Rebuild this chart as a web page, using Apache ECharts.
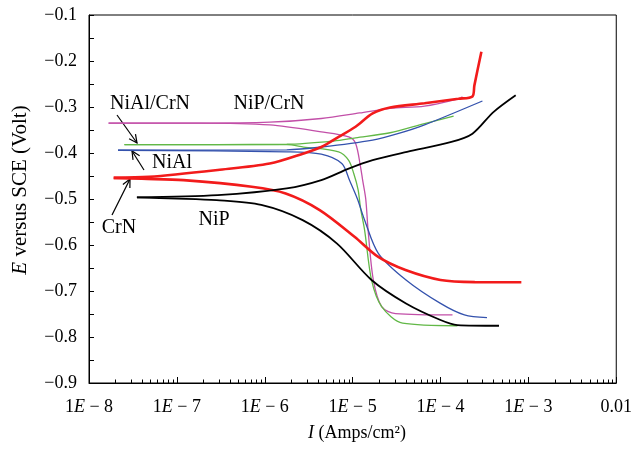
<!DOCTYPE html>
<html><head><meta charset="utf-8">
<script src="https://cdn.jsdelivr.net/npm/echarts@6/dist/echarts.min.js"></script>
<style>html,body{margin:0;padding:0;background:#fff}#c{width:635px;height:451px}</style>
</head><body><div id="c"></div>
<script>
// Tick labels
const xTickLabels = ['1{i|E} − 8','1{i|E} − 7','1{i|E} − 6','1{i|E} − 5','1{i|E} − 4','1{i|E} − 3','0.01'];
const yTickLabels = ['−0.9','−0.8','−0.7','−0.6','−0.5','−0.4','−0.3','−0.2','−0.1'];
const xMinorMultipliers = [2,3,4,5,6,7,8,9];
const xDecades = [1e-8,1e-7,1e-6,1e-5,1e-4,1e-3];

// Polarization curves: [I (A/cm2), E (V vs SCE)], each branch starts at Ecorr
const nipCrN_cathodic = [[1.67e-8,-0.335],[1.82e-7,-0.335],[1.14e-6,-0.339],[4.40e-6,-0.354],[9.02e-6,-0.365],[1.08e-5,-0.379],[1.23e-5,-0.43],[1.30e-5,-0.459],[1.41e-5,-0.50],[1.50e-5,-0.568],[1.72e-5,-0.676],[2.14e-5,-0.734],[3.08e-5,-0.749],[1.37e-4,-0.752]];
const nipCrN_anodic = [[1.67e-8,-0.335],[1.82e-7,-0.335],[1.14e-6,-0.333],[4.40e-6,-0.325],[1.20e-5,-0.313],[2.67e-5,-0.303],[6.58e-5,-0.298],[1.62e-4,-0.282],[1.78e-4,-0.278]];

const nialCrN_cathodic = [[2.53e-8,-0.382],[1.78e-6,-0.382],[2.77e-6,-0.387],[6.93e-6,-0.3975],[9.02e-6,-0.416],[1.03e-5,-0.4445],[1.155e-5,-0.48],[1.23e-5,-0.52],[1.37e-5,-0.568],[1.64e-5,-0.676],[2.14e-5,-0.734],[3.70e-5,-0.770],[1.56e-4,-0.7755]];
const nialCrN_anodic = [[2.53e-8,-0.382],[1.78e-6,-0.381],[6.08e-6,-0.374],[1.08e-5,-0.367],[2.67e-5,-0.356],[6.58e-5,-0.336],[1.41e-4,-0.320]];

const nial_cathodic = [[2.14e-8,-0.394],[1.78e-6,-0.3975],[4.40e-6,-0.4026],[7.53e-6,-0.423],[9.25e-6,-0.46],[1.135e-5,-0.50],[1.37e-5,-0.546],[1.96e-5,-0.618],[4.05e-5,-0.676],[1.0e-4,-0.727],[1.87e-4,-0.752],[3.38e-4,-0.758]];
const nial_anodic = [[2.14e-8,-0.394],[1.78e-6,-0.393],[4.40e-6,-0.387],[1.69e-5,-0.372],[3.42e-5,-0.357],[6.58e-5,-0.339],[3.0e-4,-0.287]];

const crn_cathodic = [[1.91e-8,-0.454],[4.0e-8,-0.456],[1.19e-7,-0.459],[7.11e-7,-0.4735],[1.73e-6,-0.488],[4.22e-6,-0.524],[1.05e-5,-0.582],[1.96e-5,-0.626],[4.0e-5,-0.6545],[1.0e-4,-0.676],[2.46e-4,-0.6806],[8.32e-4,-0.681]];
const crn_anodic = [[1.91e-8,-0.454],[4.81e-8,-0.452],[2.92e-7,-0.437],[1.14e-6,-0.423],[2.77e-6,-0.401],[4.40e-6,-0.387],[6.93e-6,-0.365],[1.08e-5,-0.343],[1.69e-5,-0.314],[2.67e-5,-0.301],[6.58e-5,-0.292],[1.60e-4,-0.282],[2.31e-4,-0.277],[2.43e-4,-0.253],[2.92e-4,-0.180]];

const nip_cathodic = [[3.51e-8,-0.4966],[1.0e-7,-0.499],[2.83e-7,-0.5025],[9.12e-7,-0.513],[2.70e-6,-0.546],[6.65e-6,-0.597],[1.64e-5,-0.676],[4.05e-5,-0.727],[1.0e-4,-0.763],[1.56e-4,-0.774],[4.63e-4,-0.7755]];
const nip_anodic = [[3.51e-8,-0.4966],[2.92e-7,-0.4916],[1.78e-6,-0.477],[4.40e-6,-0.459],[9.02e-6,-0.434],[1.69e-5,-0.4156],[4.16e-5,-0.3975],[1.33e-4,-0.376],[2.31e-4,-0.358],[4.0e-4,-0.311],[7.17e-4,-0.2744]];

const FONT = 'Liberation Serif';
const colors = { nipCrN: '#c24fa8', nialCrN: '#62b847', nial: '#3452ad', crn: '#f21b1b', nip: '#000000' };

function branch(data, color, width) {
  return { type: 'line', data: data, showSymbol: false, symbol: 'none', smooth: 0.3,
    lineStyle: { color: color, width: width }, silent: true, animation: false };
}

function arrow(x1, y1, x2, y2) {
  const dx = x2 - x1, dy = y2 - y1, L = Math.hypot(dx, dy);
  const ux = dx / L, uy = dy / L, h = 9, a = 0.45;
  const c = Math.cos(a), s = Math.sin(a);
  const p1 = [x2 - h * (ux * c - uy * s), y2 - h * (uy * c + ux * s)];
  const p2 = [x2 - h * (ux * c + uy * s), y2 - h * (uy * c - ux * s)];
  return [
    { type: 'line', shape: { x1: x1, y1: y1, x2: x2, y2: y2 }, style: { stroke: '#000', lineWidth: 1.2 } },
    { type: 'polyline', shape: { points: [p1, [x2, y2], p2] }, style: { stroke: '#000', lineWidth: 1.2, fill: null } }
  ];
}
function label(text, cx, cy) {
  return { type: 'text', x: cx, y: cy, style: { text: text, font: '20px "' + FONT + '"', fill: '#000', align: 'center', verticalAlign: 'middle' } };
}

const chart = echarts.init(document.getElementById('c'), null, { renderer: 'canvas' });
const baseGraphics = [
  label('NiAl/CrN', 150, 104),
  label('NiP/CrN', 269, 104),
  label('NiAl', 172, 163),
  label('CrN', 119, 228),
  label('NiP', 214, 220),
  { type: 'text', x: 357, y: 433, style: { text: '{i|I} (Amps/cm²)', font: '18px "' + FONT + '"', fill: '#000', align: 'center', verticalAlign: 'middle',
      rich: { i: { fontStyle: 'italic', fontFamily: FONT, fontSize: 18, fill: '#000' } } } },
  { type: 'text', x: 20, y: 190, rotation: Math.PI / 2, style: { text: '{i|E} versus SCE (Volt)', font: '21px "' + FONT + '"', fill: '#000', align: 'center', verticalAlign: 'middle',
      rich: { i: { fontStyle: 'italic', fontFamily: FONT, fontSize: 21, fill: '#000' } } } }
].concat(arrow(117, 115, 137, 143), arrow(144, 170, 132, 151), arrow(112, 215, 130, 179));

chart.setOption({
  backgroundColor: '#fff',
  animation: false,
  grid: { left: 89, right: 18, top: 15, bottom: 68, show: true, borderColor: '#000', borderWidth: 1, backgroundColor: 'transparent' },
  xAxis: {
    type: 'log', logBase: 10, min: 1e-8, max: 1e-2,
    axisLine: { show: true, lineStyle: { color: '#000', width: 1 } },
    axisTick: { show: true, inside: true, length: 6, lineStyle: { color: '#000' } },
    splitLine: { show: false },
    axisLabel: {
      margin: 15, color: '#000', fontFamily: FONT, fontSize: 18,
      formatter: function (v) { const k = Math.round(Math.log10(v)) + 8; return xTickLabels[k] || ''; },
      rich: { i: { fontStyle: 'italic', fontFamily: FONT, fontSize: 18, color: '#000' } }
    }
  },
  yAxis: {
    type: 'value', min: -0.9, max: -0.1, interval: 0.1,
    axisLine: { show: true, lineStyle: { color: '#000', width: 1 } },
    axisTick: { show: true, inside: true, length: 5, lineStyle: { color: '#000' } },
    minorTick: { show: true, splitNumber: 2, length: 5, lineStyle: { color: '#000' } },
    splitLine: { show: false },
    axisLabel: {
      margin: 12, color: '#000', fontFamily: FONT, fontSize: 18,
      formatter: function (v) { const k = Math.round((v + 0.9) * 10); return yTickLabels[k] || ''; }
    }
  },
  series: [
    branch(nipCrN_cathodic, colors.nipCrN, 1.3),
    branch(nipCrN_anodic, colors.nipCrN, 1.3),
    branch(nialCrN_cathodic, colors.nialCrN, 1.3),
    branch(nialCrN_anodic, colors.nialCrN, 1.3),
    branch(nial_cathodic, colors.nial, 1.3),
    branch(nial_anodic, colors.nial, 1.3),
    branch(crn_cathodic, colors.crn, 2.6),
    branch(crn_anodic, colors.crn, 2.6),
    branch(nip_cathodic, colors.nip, 1.8),
    branch(nip_anodic, colors.nip, 1.8)
  ],
  graphic: baseGraphics
});

// Log-axis minor ticks (2..9 × each decade), positioned through the chart's own x scale
const minorTicks = [];
xDecades.forEach(function (d) {
  xMinorMultipliers.forEach(function (m) {
    const p = chart.convertToPixel({ xAxisIndex: 0, yAxisIndex: 0 }, [m * d, -0.9]);
    if (p) {
      const x = Math.round(p[0]) + 0.5;
      minorTicks.push({ type: 'line', z: 10, shape: { x1: x, y1: p[1], x2: x, y2: p[1] - 3.5 }, style: { stroke: '#000', lineWidth: 1 } });
    }
  });
});
chart.setOption({ graphic: baseGraphics.concat(minorTicks) });
</script></body></html>
